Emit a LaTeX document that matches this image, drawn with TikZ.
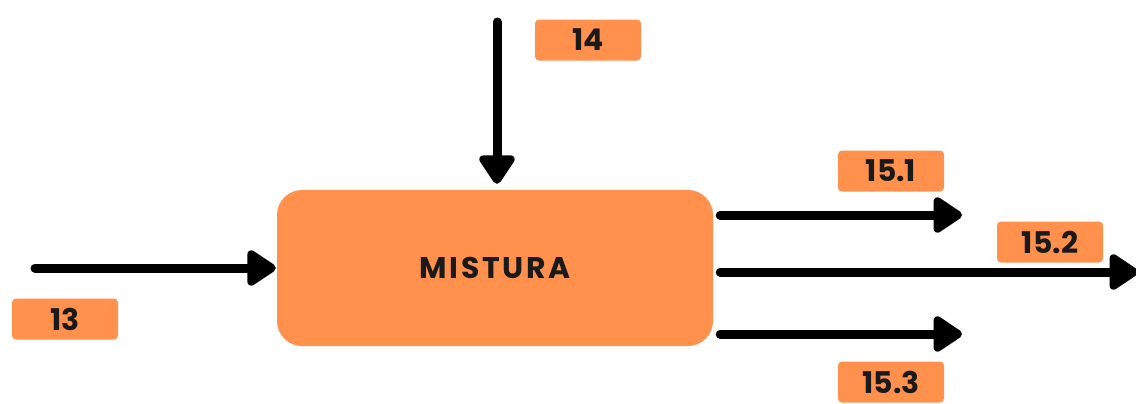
\documentclass[tikz,border=0pt]{standalone}
\usepackage{fontspec}
\setmainfont{Poppins}
\usetikzlibrary{arrows.meta}
\definecolor{mixorange}{HTML}{FF914D}
\definecolor{inkdark}{HTML}{1A1A1A}

\tikzstyle{process} = [rectangle, fill=mixorange, rounded corners=25bp, minimum width=436bp, minimum height=156bp, text=inkdark, font=\fontsize{30}{33}\selectfont\bfseries\addfontfeature{LetterSpace=9}]
\tikzstyle{tag} = [rectangle, fill=mixorange, rounded corners=4bp, minimum width=106bp, minimum height=41bp, inner sep=0pt, text=inkdark, font=\fontsize{30}{33}\selectfont\bfseries]
\tikzstyle{flow} = [line width=9bp, line cap=round, -{Triangle[length=32bp,width=40bp,round]}]

\begin{document}
\begin{tikzpicture}[x=1bp, y=-1bp]
        \useasboundingbox (0,0) rectangle (1136,403);
        % main block
        \node (mix) at (495,268) [process] {MISTURA};
        % flow tags
        \node (t13) at (65,319) [tag] {13};
        \node (t14) at (588,40) [tag] {14};
        \node (t151) at (891,171) [tag] {15.1};
        \node (t152) at (1050,242) [tag] {15.2};
        \node (t153) at (891,382) [tag] {15.3};
        % free ends
        \coordinate (in13) at (35,268);
        \coordinate (in14) at (497,22);
        \coordinate (out151) at (962,215);
        \coordinate (out152) at (1138,272);
        \coordinate (out153) at (962,334);
        % streams
        \draw[flow, shorten >=1bp] (in13) -- (mix.west);
        \draw[flow, shorten >=6bp] (in14) -- (in14 |- mix.north);
        \draw[flow, shorten <=7bp] (mix.east |- out151) -- (out151);
        \draw[flow, shorten <=7bp] (mix.east |- out152) -- (out152);
        \draw[flow, shorten <=7bp] (mix.east |- out153) -- (out153);
\end{tikzpicture}
\end{document}
